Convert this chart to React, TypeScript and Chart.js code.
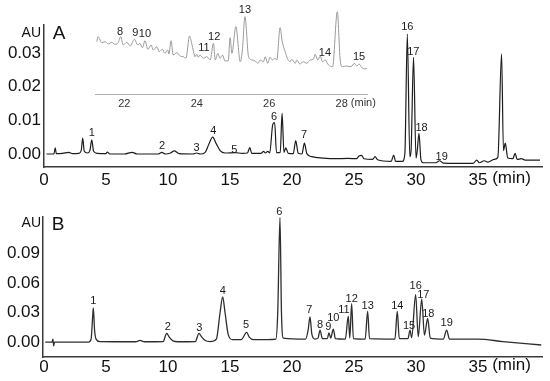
import { useEffect, useRef } from "react";
import { Chart, registerables } from "chart.js";
Chart.register(...registerables);

const FAMILY = "'Liberation Sans', Arial, Helvetica, sans-serif";

// ---- tick values ----
const xTickValues = [0, 5, 10, 15, 20, 25, 30, 35];
const yTicksA = [0, 0.01, 0.02, 0.03];
const yTicksB = [0, 0.03, 0.06, 0.09];
const insetTickValues = [22, 24, 26, 28];

// ---- Panel A main trace: [time (min), absorbance (AU)] ----
const traceA: [number, number][] = [
  [0.2, 0], [0.8, 0], [0.9, 0.0018], [1.0, 0.0001], [1.5, 0.0002], [2.0, 0.0005], [2.3, 0.0001],
  [2.8, 0.0002], [3.0, 0.001], [3.12, 0.0047], [3.25, 0.0008], [3.5, 0.0003], [3.7, 0.001],
  [3.85, 0.0042], [4.0, 0.0008], [4.3, 0.0002], [5.0, 0.0001], [5.1, 0.0006], [5.3, 0],
  [6.5, 0], [7.1, 0.0005], [7.5, 0], [9.2, 0], [9.5, 0.0005], [9.8, 0], [10.2, 0.0003],
  [10.5, 0.0009], [10.9, 0.0001], [12.0, 0], [12.3, 0.0003], [12.6, 0], [13.0, 0.0005],
  [13.3, 0.003], [13.6, 0.005], [13.9, 0.003], [14.2, 0.001], [14.6, 0.0003], [15.4, 0.0004],
  [16.0, 0.0002], [16.4, 0.0003], [16.6, 0.0019], [16.75, 0.0002], [17.5, 0.0002], [17.7, 0.0008],
  [17.85, 0.0003], [18.05, 0.0008], [18.2, 0.0003], [18.45, 0.0088], [18.6, 0.0093], [18.75, 0.0004],
  [19.05, 0.0005], [19.2, 0.0121], [19.35, 0.0005], [19.5, 0.0018], [19.7, 0.0002], [20.1, 0.0001],
  [20.3, 0.004], [20.5, 0.0002], [20.8, 0], [21.0, 0.0032], [21.2, 0.0001], [21.6, -0.0008],
  [22.5, -0.0012], [23.5, -0.0014], [24.5, -0.0013], [25.2, -0.0014], [25.4, -0.0006], [25.6, -0.0004],
  [25.8, -0.0014], [26.5, -0.0016], [26.7, -0.0008], [26.9, -0.0017], [28.0, -0.0022], [28.2, -0.0003],
  [28.35, -0.0022], [28.9, -0.0022], [29.1, 0], [29.3, 0.0356], [29.5, -0.0008], [29.6, 0.001],
  [29.8, 0.0287], [30.0, -0.0012], [30.1, 0.001], [30.24, 0.0061], [30.4, -0.0018], [30.6, -0.0026],
  [31.6, -0.0026], [31.9, -0.002], [32.2, -0.0027], [34.6, -0.0028], [34.9, -0.0018], [35.1, -0.0026],
  [35.5, -0.002], [35.8, -0.0024], [36.3, -0.0016], [36.6, -0.001], [36.9, 0.0297], [37.05, 0.001],
  [37.2, 0.0032], [37.4, -0.0012], [37.8, -0.0014], [38.0, 0.0002], [38.15, -0.0016], [38.5, -0.0014],
  [38.8, -0.0018], [40.0, -0.0018],
];

// ---- Panel A inset (21–28.7 min, relative response) ----
const traceInset: [number, number][] = [
  [21.24, 0.581], [21.27, 0.637], [21.38, 0.57], [21.47, 0.581], [21.56, 0.556], [21.65, 0.574],
  [21.74, 0.552], [21.83, 0.57], [21.9, 0.637], [21.97, 0.544], [22.07, 0.574], [22.16, 0.533],
  [22.28, 0.608], [22.37, 0.544], [22.43, 0.563], [22.5, 0.514], [22.57, 0.592], [22.65, 0.497],
  [22.74, 0.544], [22.8, 0.489], [22.9, 0.526], [22.96, 0.47], [23.05, 0.497], [23.12, 0.452],
  [23.2, 0.489], [23.23, 0.444], [23.29, 0.592], [23.35, 0.433], [23.45, 0.459], [23.54, 0.422],
  [23.63, 0.414], [23.7, 0.397], [23.8, 0.644], [23.86, 0.563], [23.91, 0.47], [23.95, 0.414],
  [24.0, 0.441], [24.04, 0.408], [24.09, 0.433], [24.18, 0.397], [24.28, 0.414], [24.37, 0.378],
  [24.46, 0.563], [24.51, 0.378], [24.58, 0.452], [24.64, 0.397], [24.71, 0.433], [24.78, 0.367],
  [24.87, 0.37], [24.92, 0.626], [24.97, 0.452], [25.08, 0.748], [25.2, 0.359], [25.26, 0.489],
  [25.33, 0.859], [25.43, 0.414], [25.52, 0.378], [25.61, 0.367], [25.69, 0.341], [25.75, 0.378],
  [25.84, 0.359], [25.89, 0.414], [25.96, 0.341], [26.02, 0.408], [26.09, 0.378], [26.16, 0.397],
  [26.21, 0.378], [26.3, 0.737], [26.36, 0.581], [26.44, 0.47], [26.5, 0.397], [26.58, 0.359],
  [26.62, 0.386], [26.72, 0.341], [26.76, 0.378], [26.85, 0.333], [26.94, 0.359], [27.04, 0.341],
  [27.13, 0.378], [27.22, 0.386], [27.27, 0.441], [27.34, 0.378], [27.41, 0.422], [27.47, 0.359],
  [27.54, 0.378], [27.64, 0.322], [27.75, 0.303], [27.88, 0.914], [27.96, 0.378], [28.02, 0.303],
  [28.14, 0.311], [28.26, 0.303], [28.35, 0.341], [28.42, 0.311], [28.48, 0.333], [28.56, 0.292],
  [28.65, 0.278], [28.7, 0.286],
];

// ---- Panel B trace ----
const traceB: [number, number][] = [
  [0.1, 0], [0.65, 0], [0.72, 0.003], [0.78, -0.004], [0.85, 0], [3.6, 0], [3.8, 0.003],
  [3.92, 0.025], [3.98, 0.0347], [4.08, 0.012], [4.2, 0.003], [4.5, 0.0005], [7.4, 0.0003],
  [7.74, 0.0017], [8.1, 0.0003], [9.6, 0.0005], [9.9, 0.0088], [10.1, 0.005], [10.4, 0.0012],
  [10.8, 0.0003], [12.2, 0.0005], [12.5, 0.0088], [12.7, 0.0055], [13.0, 0.0015], [13.4, 0.0005],
  [13.9, 0.003], [14.2, 0.03], [14.41, 0.0458], [14.6, 0.03], [14.85, 0.008], [15.2, 0.0025],
  [15.9, 0.0025], [16.35, 0.0098], [16.55, 0.005], [16.9, 0.0025], [18.0, 0.0025], [18.7, 0.003],
  [18.85, 0.03], [19.03, 0.1265], [19.15, 0.03], [19.3, 0.004], [21.1, 0.003], [21.3, 0.012],
  [21.45, 0.0256], [21.6, 0.008], [21.85, 0.003], [22.1, 0.004], [22.26, 0.0121], [22.45, 0.0035],
  [22.85, 0.0035], [22.98, 0.0094], [23.12, 0.004], [23.33, 0.0131], [23.5, 0.0035], [24.3, 0.003],
  [24.54, 0.0263], [24.66, 0.004], [24.81, 0.0391], [24.95, 0.0035], [25.9, 0.003], [26.1, 0.0313],
  [26.25, 0.0035], [28.3, 0.003], [28.49, 0.0313], [28.65, 0.0035], [29.35, 0.0035], [29.52, 0.0121],
  [29.65, 0.0045], [29.97, 0.0482], [30.18, 0.0054], [30.46, 0.0435], [30.68, 0.007], [30.94, 0.024],
  [31.15, 0.004], [32.2, 0.003], [32.47, 0.0121], [32.7, 0.003], [35.0, 0.003], [37.0, 0.0005],
  [40.1, -0.003],
];

// ---- peak labels ----
const peakNamesA = ["1", "2", "3", "4", "5", "6", "7", "16", "17", "18", "19"];
const peakTimesA = [3.85, 9.52, 12.31, 13.65, 15.35, 18.55, 20.97, 29.3, 29.78, 30.45, 32.07];
const peakLevelsA = [0.0061, 0.0025, 0.0017, 0.0069, 0.0012, 0.0111, 0.0056, 0.0376, 0.0304, 0.0076, -0.0008];

const peakNamesInset = ["8", "9", "10", "11", "12", "13", "14", "15"];
const peakTimesInset = [21.88, 22.3, 22.57, 24.2, 24.48, 25.33, 27.54, 28.48];
const peakLevelsInset = [0.692, 0.674, 0.663, 0.508, 0.63, 0.933, 0.452, 0.408];

const peakNamesB = ["1", "2", "3", "4", "5", "6", "7", "8", "9", "10", "11", "12", "13", "14", "15", "16", "17", "18", "19"];
const peakTimesB = [3.98, 9.98, 12.52, 14.41, 16.29, 18.98, 21.4, 22.26, 22.93, 23.33, 24.19, 24.81, 26.1, 28.49, 29.44, 29.97, 30.59, 30.99, 32.47];
const peakLevelsB = [0.0418, 0.0149, 0.0139, 0.0519, 0.0172, 0.1318, 0.0324, 0.0172, 0.0149, 0.024, 0.0324, 0.0442, 0.0364, 0.0364, 0.0165, 0.0566, 0.0475, 0.029, 0.0189];

const toPoints = (arr: [number, number][]) => arr.map(([x, y]) => ({ x, y }));

function overlayPlugin(names: string[], times: number[], levels: number[], labelSize: number, labelColor: string, extra: (chart: any) => void) {
  return {
    id: "overlay",
    afterDraw(chart: any) {
      const { ctx, scales } = chart;
      ctx.save();
      ctx.font = `${labelSize}px ${FAMILY}`;
      ctx.fillStyle = labelColor;
      ctx.textAlign = "center";
      ctx.textBaseline = "middle";
      names.forEach((s, i) => {
        ctx.fillText(s, scales.x.getPixelForValue(times[i]), scales.y.getPixelForValue(levels[i]));
      });
      extra(chart);
      ctx.restore();
    },
  };
}

function drawMinAfter(chart: any, tickValue: number, size: number, dy: number, color: string) {
  const { ctx, scales } = chart;
  ctx.font = `${size}px ${FAMILY}`;
  ctx.fillStyle = color;
  ctx.textAlign = "left";
  ctx.textBaseline = "middle";
  const x = scales.x.getPixelForValue(tickValue) + ctx.measureText(String(tickValue)).width / 2 + ctx.measureText(" ").width;
  ctx.fillText("(min)", x, scales.x.top + dy);
}

function xAxis(min: number, max: number, ticks: number[], size: number, padding: number, height: number, color: string, width: number, labelColor: string) {
  return {
    type: "linear",
    min,
    max,
    afterBuildTicks: (s: any) => { s.ticks = ticks.map((v) => ({ value: v })); },
    afterFit: (s: any) => { s.height = height; },
    grid: { display: true, drawOnChartArea: false, drawTicks: false },
    border: { display: true, color, width },
    ticks: { font: { family: FAMILY, size }, color: labelColor, padding, maxRotation: 0, autoSkip: false, callback: (v: any) => String(v) },
  };
}

function yAxis(min: number, max: number, ticks: number[], width: number) {
  return {
    type: "linear",
    min,
    max,
    afterBuildTicks: (s: any) => { s.ticks = ticks.map((v) => ({ value: v })); },
    afterFit: (s: any) => { s.width = width; },
    grid: { display: true, drawOnChartArea: false, drawTicks: false },
    border: { display: true, color: "#3a3a3a", width: 1.5 },
    ticks: { font: { family: FAMILY, size: 17 }, color: "#111", padding: 3, callback: (v: any) => Number(v).toFixed(2) },
  };
}

function baseOptions(layoutPadding: any, scales: any) {
  return {
    responsive: false,
    animation: false,
    devicePixelRatio: 1,
    layout: { padding: layoutPadding },
    plugins: { legend: { display: false }, tooltip: { enabled: false } },
    scales,
  };
}

function lineDataset(data: [number, number][], color: string, width: number) {
  return {
    data: toPoints(data),
    borderColor: color,
    borderWidth: width,
    pointRadius: 0,
    showLine: true,
    fill: false,
    cubicInterpolationMode: "monotone",
  };
}

function configA(): any {
  return {
    type: "scatter",
    data: { datasets: [lineDataset(traceA, "#1c1c1c", 1.2)] },
    options: baseOptions({ left: 0, right: 8, top: 25, bottom: 0 }, {
      x: xAxis(0, 40.16, xTickValues, 17, 3, 23, "#3a3a3a", 1.5, "#111"),
      y: yAxis(-0.00386, 0.0383, yTicksA, 44),
    }),
    plugins: [overlayPlugin(peakNamesA, peakTimesA, peakLevelsA, 11, "#1a1a1a", (chart) => {
      const { ctx } = chart;
      ctx.fillStyle = "#111";
      ctx.font = `19px ${FAMILY}`;
      ctx.textAlign = "center";
      ctx.fillText("A", 59, 34);
      ctx.font = `14px ${FAMILY}`;
      ctx.textAlign = "right";
      ctx.fillText("AU", 41, 33);
      drawMinAfter(chart, 35, 17, 11, "#111");
    })],
  };
}

function configInset(): any {
  return {
    type: "scatter",
    data: { datasets: [lineDataset(traceInset, "#9a9a9a", 1)] },
    options: baseOptions({ left: 15, right: 13, top: 4, bottom: 0 }, {
      x: xAxis(21.19, 28.7, insetTickValues, 11, 3, 18, "#b0b0b0", 1, "#333"),
      y: { type: "linear", min: 0, max: 1, display: false },
    }),
    plugins: [overlayPlugin(peakNamesInset, peakTimesInset, peakLevelsInset, 11, "#222", (chart) => {
      drawMinAfter(chart, 28, 11, 9, "#333");
    })],
  };
}

function configB(): any {
  return {
    type: "scatter",
    data: { datasets: [lineDataset(traceB, "#2e2e2e", 1.3)] },
    options: baseOptions({ left: 0, right: 8, top: 27, bottom: 0 }, {
      x: xAxis(-0.08, 40.16, xTickValues, 17, 0, 24, "#3a3a3a", 1.5, "#111"),
      y: yAxis(-0.0152, 0.127, yTicksB, 43),
    }),
    plugins: [overlayPlugin(peakNamesB, peakTimesB, peakLevelsB, 11, "#1a1a1a", (chart) => {
      const { ctx } = chart;
      ctx.fillStyle = "#111";
      ctx.font = `19px ${FAMILY}`;
      ctx.textAlign = "center";
      ctx.fillText("B", 58, 35);
      ctx.font = `14px ${FAMILY}`;
      ctx.textAlign = "right";
      ctx.fillText("AU", 41, 33);
      drawMinAfter(chart, 35, 17, 8, "#111");
    })],
  };
}

export default function App() {
  const refA = useRef<HTMLCanvasElement>(null);
  const refI = useRef<HTMLCanvasElement>(null);
  const refB = useRef<HTMLCanvasElement>(null);
  useEffect(() => {
    document.body.style.margin = "0";
    const a = new Chart(refA.current!, configA());
    const i = new Chart(refI.current!, configInset());
    const b = new Chart(refB.current!, configB());
    return () => { a.destroy(); i.destroy(); b.destroy(); };
  }, []);
  return (
    <div style={{ position: "relative", width: 550, height: 381, background: "#fff" }}>
      <canvas ref={refA} width={550} height={190} style={{ position: "absolute", left: 0, top: 0 }} />
      <canvas ref={refI} width={300} height={112} style={{ position: "absolute", left: 80, top: 0 }} />
      <canvas ref={refB} width={550} height={191} style={{ position: "absolute", left: 0, top: 190 }} />
    </div>
  );
}
